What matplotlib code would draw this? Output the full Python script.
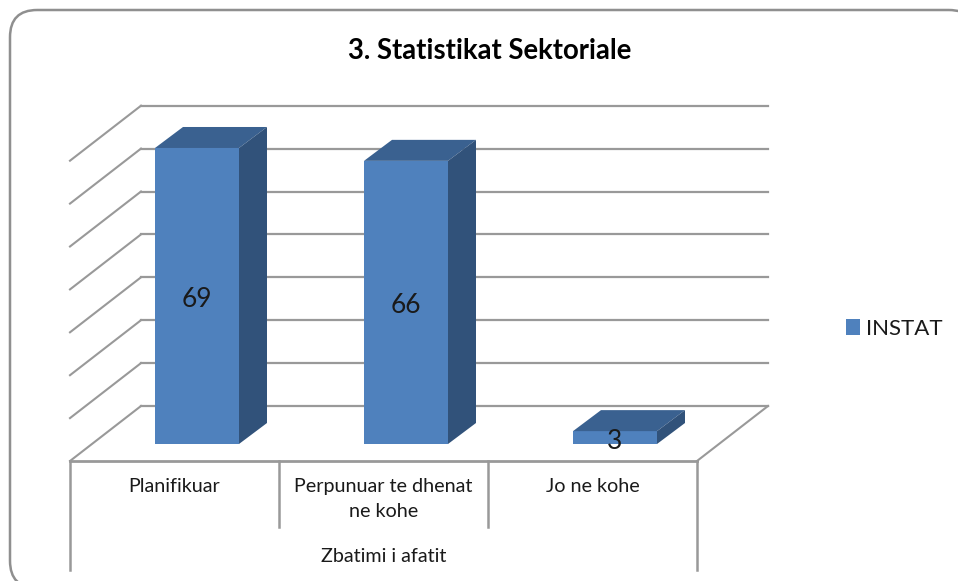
import matplotlib
matplotlib.use("Agg")
import matplotlib.pyplot as plt
from matplotlib.patches import FancyBboxPatch, Patch

W, H = 958, 581

categories = ["Planifikuar", "Perpunuar te dhenat\nne kohe", "Jo ne kohe"]
group_label = "Zbatimi i afatit"
series_name = "INSTAT"
values = [69, 66, 3]
grid_values = [0, 10, 20, 30, 40, 50, 60, 70]
title = "3. Statistikat Sektoriale"

FRONT = "#4F81BD"
TOP = "#3A6190"
SIDE = "#31527A"
GRID = "#999999"
TEXT = "#1a1a1a"

plt.rcParams["font.family"] = ["Lato", "DejaVu Sans"]

# x unit = one category (209 px), y unit = one value (4.29 px), y=0 is the front floor edge
PX_X = 209.0
PX_Y = 4.29
X0, Y0 = 70, 461
FLOOR_DX, FLOOR_DY = 71 / PX_X, 55 / PX_Y
BAR_DX, BAR_DY = 22.5 / PX_X, 17 / PX_Y
BAR_W = 84 / PX_X
BAR_DEPTH_X, BAR_DEPTH_Y = 28 / PX_X, 21 / PX_Y

fig = plt.figure(figsize=(W / 100, H / 100), dpi=100)
ax = fig.add_axes([0, 0, 1, 1])
ax.set_xlim(-X0 / PX_X, (W - X0) / PX_X)
ax.set_ylim(-(H - Y0) / PX_Y, Y0 / PX_Y)
ax.axis("off")


def px_x(p):
    return (p - X0) / PX_X


def px_y(p):
    return (Y0 - p) / PX_Y


# outer chart frame, runs off the right and bottom of the picture
ax.add_patch(FancyBboxPatch((px_x(10), px_y(588)), 966 / PX_X, 578 / PX_Y,
                            boxstyle="round,pad=0,rounding_size=0.13",
                            mutation_aspect=PX_X / PX_Y, fc="white", ec="#8f8f8f", lw=1.8,
                            clip_on=True, zorder=1))

# back wall and side wall gridlines
n = len(categories)
for g in grid_values:
    y = g + FLOOR_DY
    ax.plot([FLOOR_DX, FLOOR_DX + n], [y, y], color=GRID, lw=1.6, zorder=2)
    ax.plot([0, FLOOR_DX], [g, y], color=GRID, lw=1.5, zorder=2)

# floor
ax.plot([0, n], [0, 0], color=GRID, lw=2.0, zorder=2)
ax.plot([n, n + FLOOR_DX], [0, FLOOR_DY], color=GRID, lw=1.5, zorder=2)

# category table below the floor
for i in range(n + 1):
    bottom = 527 if 0 < i < n else 570
    ax.plot([i, i], [0, px_y(bottom)], color=GRID, lw=1.8, zorder=2)

# bars
for i, v in enumerate(values):
    left = i + 0.5 - BAR_W / 2 + BAR_DX
    right = left + BAR_W
    base = BAR_DY
    top = base + v
    ax.fill([left, right, right, left], [base, base, top, top], color=FRONT, lw=0, zorder=4)
    ax.fill([left, right, right + BAR_DEPTH_X, left + BAR_DEPTH_X],
            [top, top, top + BAR_DEPTH_Y, top + BAR_DEPTH_Y], color=TOP, lw=0, zorder=4)
    ax.fill([right, right + BAR_DEPTH_X, right + BAR_DEPTH_X, right],
            [base, base + BAR_DEPTH_Y, top + BAR_DEPTH_Y, top], color=SIDE, lw=0, zorder=4)
    ax.text((left + right) / 2, base + v / 2 - 3.5 / PX_Y, str(v), ha="center", va="center",
            fontsize=19, color=TEXT, zorder=5)

# category labels
for i, c in enumerate(categories):
    ax.text(i + 0.5, px_y(478), c, ha="center", va="top", fontsize=14.2, color=TEXT,
            linespacing=1.55, zorder=5)
ax.text(n / 2, px_y(557), group_label, ha="center", va="center", fontsize=14.2, color=TEXT,
        zorder=5)

ax.text(px_x(490), px_y(51), title, ha="center", va="center", fontsize=19.8,
        fontweight="bold", color="black", zorder=5)

leg = ax.legend(handles=[Patch(facecolor=FRONT, label=series_name)], frameon=False,
                loc="center left", bbox_to_anchor=(835 / W, 1 - 329 / H), fontsize=16,
                labelcolor=TEXT, handlelength=0.63, handleheight=0.72, handletextpad=0.27,
                borderpad=0, borderaxespad=0.5)
leg.set_zorder(5)

fig.savefig("out.png", dpi=100)
